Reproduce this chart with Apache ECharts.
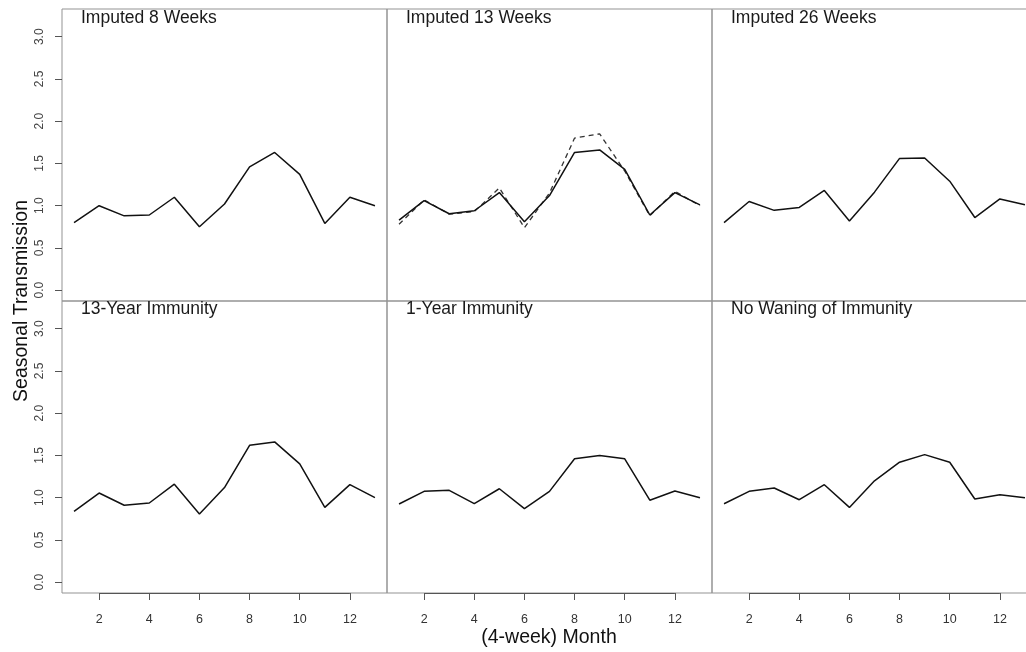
<!DOCTYPE html>
<html>
<head>
<meta charset="utf-8">
<script src="https://cdn.jsdelivr.net/npm/echarts@6/dist/echarts.min.js"></script>
<style>
  html, body { margin: 0; padding: 0; background: #fff; }
  #chart { width: 1026px; height: 652px; }
</style>
</head>
<body>
<div id="chart"></div>
<script>
// (4-week) months of the year
const months = [1, 2, 3, 4, 5, 6, 7, 8, 9, 10, 11, 12, 13];

// Seasonal transmission estimates per scenario
const imputed8Weeks   = [0.80, 1.00, 0.88, 0.89, 1.10, 0.75, 1.02, 1.46, 1.63, 1.37, 0.79, 1.10, 1.00];
const imputed13Weeks  = [0.83, 1.06, 0.905, 0.94, 1.155, 0.81, 1.12, 1.63, 1.66, 1.43, 0.89, 1.155, 1.01];
const imputed13Alt    = [0.78, 1.07, 0.90, 0.93, 1.21, 0.74, 1.15, 1.80, 1.85, 1.41, 0.88, 1.17, 1.00];
const imputed26Weeks  = [0.80, 1.05, 0.945, 0.98, 1.18, 0.82, 1.16, 1.56, 1.565, 1.29, 0.86, 1.08, 1.01];
const immunity13Year  = [0.837, 1.055, 0.91, 0.937, 1.16, 0.806, 1.12, 1.62, 1.66, 1.40, 0.885, 1.155, 1.00];
const immunity1Year   = [0.925, 1.075, 1.087, 0.93, 1.106, 0.87, 1.075, 1.46, 1.50, 1.46, 0.97, 1.08, 1.00];
const noWaning        = [0.928, 1.075, 1.115, 0.976, 1.154, 0.885, 1.20, 1.42, 1.51, 1.42, 0.984, 1.035, 1.00];

// Panel titles
const panelTitles = [
  'Imputed 8 Weeks', 'Imputed 13 Weeks', 'Imputed 26 Weeks',
  '13-Year Immunity', '1-Year Immunity', 'No Waning of Immunity'
];

// Tick values
const yTicks = [0, 0.5, 1.0, 1.5, 2.0, 2.5, 3.0];
const xTicks = [2, 4, 6, 8, 10, 12];

// Axis ranges (data limits padded by 4%, as in base graphics)
const xMin = 0.52, xMax = 13.48;
const yMin = -0.128, yMax = 3.328;

const FONT = '"Liberation Sans", Arial, Helvetica, sans-serif';

const panelData = [
  [imputed8Weeks],
  [imputed13Weeks, imputed13Alt],
  [imputed26Weeks],
  [immunity13Year],
  [immunity1Year],
  [noWaning]
];

const colLeft = [62, 387, 712];
const colWidth = 325;
const rowTop = [9, 301];
const rowHeight = 292;

const grids = [], xAxes = [], yAxes = [], series = [], graphics = [];

panelData.forEach(function (lines, i) {
  const row = Math.floor(i / 3), col = i % 3;
  const isBottom = row === 1, isLeft = col === 0;

  grids.push({
    left: colLeft[col], top: rowTop[row], width: colWidth, height: rowHeight,
    show: true, borderColor: '#939393', borderWidth: 1, backgroundColor: 'transparent',
    containLabel: false, outerBoundsMode: 'none'
  });

  xAxes.push({
    type: 'value', gridIndex: i, min: xMin, max: xMax,
    axisLine: { show: false, onZero: false },
    splitLine: { show: false },
    axisTick: {
      show: isBottom, length: 7, customValues: xTicks,
      lineStyle: { color: '#555', width: 1 }
    },
    axisLabel: {
      show: isBottom, customValues: xTicks, margin: 20,
      fontSize: 12.5, fontFamily: FONT, color: '#333'
    }
  });

  yAxes.push({
    type: 'value', gridIndex: i, min: yMin, max: yMax,
    axisLine: { show: false, onZero: false },
    splitLine: { show: false },
    axisTick: {
      show: isLeft, length: 7, customValues: yTicks,
      lineStyle: { color: '#555', width: 1 }
    },
    axisLabel: {
      show: isLeft, customValues: yTicks, rotate: 90, margin: 16,
      fontSize: 12, fontFamily: FONT, color: '#444',
      formatter: function (v) { return v.toFixed(1); }
    }
  });

  lines.forEach(function (vals, k) {
    const s = {
      type: 'line', xAxisIndex: i, yAxisIndex: i,
      data: months.map(function (m, j) { return [m, vals[j]]; }),
      showSymbol: false, symbol: 'none', silent: true, animation: false,
      lineStyle: k === 0
        ? { color: '#111', width: 1.5 }
        : { color: '#333', width: 1.3, type: [5, 4] },
      z: k === 0 ? 3 : 2
    };
    if (isBottom && k === 0) {
      // darker axis line spanning the first to last tick
      s.markLine = {
        silent: true, symbol: 'none', animation: false,
        label: { show: false },
        lineStyle: { color: '#555', width: 1, type: 'solid' },
        data: [[{ coord: [xTicks[0], yMin] }, { coord: [xTicks[xTicks.length - 1], yMin] }]]
      };
    }
    series.push(s);
  });

  graphics.push({
    type: 'text',
    x: colLeft[col] + 19,
    y: rowTop[row] + (isBottom ? 8 : 9),
    silent: true,
    style: {
      text: panelTitles[i], font: '17.5px ' + FONT, fill: '#1a1a1a',
      align: 'left', verticalAlign: 'middle'
    }
  });
});

// Shared axis titles
graphics.push({
  type: 'text', x: 22, y: 301, rotation: Math.PI / 2, silent: true,
  style: {
    text: 'Seasonal Transmission', font: '19.5px ' + FONT, fill: '#111',
    align: 'center', verticalAlign: 'middle'
  }
});
graphics.push({
  type: 'text', x: 549, y: 638, silent: true,
  style: {
    text: '(4-week) Month', font: '19.5px ' + FONT, fill: '#111',
    align: 'center', verticalAlign: 'middle'
  }
});

const chart = echarts.init(document.getElementById('chart'), null, { renderer: 'canvas' });
chart.setOption({
  backgroundColor: '#fff',
  animation: false,
  grid: grids,
  xAxis: xAxes,
  yAxis: yAxes,
  series: series,
  graphic: graphics
});
</script>
</body>
</html>
